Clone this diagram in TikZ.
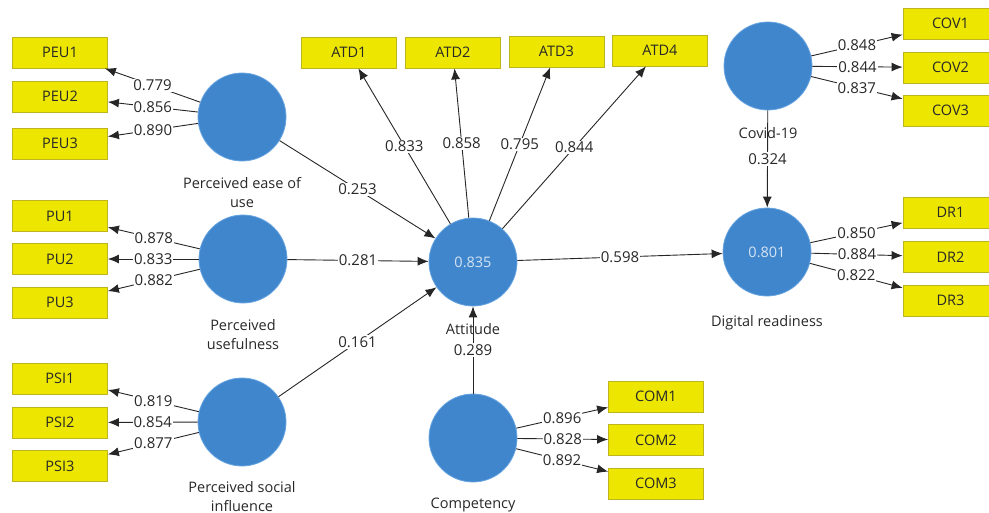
\documentclass[tikz,border=0pt]{standalone}
\usepackage{fontspec}
\setmainfont{Open Sans}
\usetikzlibrary{arrows.meta}
\definecolor{lvblue}{RGB}{64,134,204}
\definecolor{lvedge}{RGB}{105,165,225}
\definecolor{mvyellow}{RGB}{236,230,0}
\definecolor{mvedge}{RGB}{190,180,30}
\definecolor{txt}{RGB}{40,40,40}
\begin{document}
\begin{tikzpicture}[x=1pt,y=-1pt,
 lv/.style={circle,fill=lvblue,draw=lvedge,line width=0.8pt,minimum size=88pt,inner sep=0pt,text=lvblue!22!white,font=\fontsize{14.5}{16}\selectfont},
 mv/.style={rectangle,fill=mvyellow,draw=mvedge,line width=0.8pt,minimum width=95pt,minimum height=31pt,inner sep=0pt,text=txt,font=\fontsize{14.5}{16}\selectfont},
 lvname/.style={text=txt,align=center,font=\fontsize{14.5}{19}\selectfont},
 conn/.style={draw=black!85,line width=0.9pt,-{Latex[length=11pt,width=9pt]}},
 coef/.style={fill=white,inner sep=1pt,text=txt,font=\fontsize{15}{16}\selectfont}
]
\useasboundingbox (0,0) rectangle (989,512);
% indicator boxes
\node[mv] (peu1) at (60,52.5) {PEU1};
\node[mv] (peu2) at (60,96.5) {PEU2};
\node[mv] (peu3) at (60,143.5) {PEU3};
\node[mv] (pu1) at (60,216) {PU1};
\node[mv] (pu2) at (60,259) {PU2};
\node[mv] (pu3) at (60,302.5) {PU3};
\node[mv] (psi1) at (60,378.5) {PSI1};
\node[mv] (psi2) at (60,422.5) {PSI2};
\node[mv] (psi3) at (60,466) {PSI3};
\node[mv] (atd1) at (349,52.5) {ATD1};
\node[mv] (atd2) at (453,52.5) {ATD2};
\node[mv] (atd3) at (556.5,51.5) {ATD3};
\node[mv] (atd4) at (660,50.5) {ATD4};
\node[mv] (cov1) at (950.5,23.5) {COV1};
\node[mv] (cov2) at (950.5,67.5) {COV2};
\node[mv] (cov3) at (950.5,110.5) {COV3};
\node[mv] (dr1) at (950.5,212.5) {DR1};
\node[mv] (dr2) at (950.5,257) {DR2};
\node[mv] (dr3) at (950.5,300.5) {DR3};
\node[mv] (com1) at (656,396.5) {COM1};
\node[mv] (com2) at (656,440) {COM2};
\node[mv] (com3) at (656,483.5) {COM3};
% latent variables
\node[lv] (peu) at (242,117) {};
\node[lv] (pu) at (243,259) {};
\node[lv] (psi) at (242,422) {};
\node[lv] (att) at (473,262) {0.835};
\node[lv] (comp) at (473,438) {};
\node[lv] (cov) at (768,66) {};
\node[lv] (dr) at (767,252) {0.801};
% names
\node[lvname] (npeu) at (242,193) {Perceived ease of\\use};
\node[lvname] (npu) at (243,335) {Perceived\\usefulness};
\node[lvname] (npsi) at (242,497) {Perceived social\\influence};
\node[lvname] (natt) at (473,329) {Attitude};
\node[lvname] (ncomp) at (473,505) {Competency};
\node[lvname] (ncov) at (768,133) {Covid-19};
\node[lvname] (ndr) at (767,323) {Digital readiness};
% outer loadings
\draw[conn] (peu) -- node[coef] {0.779} (peu1);
\draw[conn] (peu) -- node[coef] {0.856} (peu2);
\draw[conn] (peu) -- node[coef] {0.890} (peu3);
\draw[conn] (pu) -- node[coef] {0.878} (pu1);
\draw[conn] (pu) -- node[coef] {0.833} (pu2);
\draw[conn] (pu) -- node[coef] {0.882} (pu3);
\draw[conn] (psi) -- node[coef] {0.819} (psi1);
\draw[conn] (psi) -- node[coef] {0.854} (psi2);
\draw[conn] (psi) -- node[coef] {0.877} (psi3);
\draw[conn] (att) -- node[coef] {0.833} (atd1);
\draw[conn] (att) -- node[coef] {0.858} (atd2);
\draw[conn] (att) -- node[coef] {0.795} (atd3);
\draw[conn] (att) -- node[coef] {0.844} (atd4);
\draw[conn] (cov) -- node[coef] {0.848} (cov1);
\draw[conn] (cov) -- node[coef] {0.844} (cov2);
\draw[conn] (cov) -- node[coef] {0.837} (cov3);
\draw[conn] (dr) -- node[coef] {0.850} (dr1);
\draw[conn] (dr) -- node[coef] {0.884} (dr2);
\draw[conn] (dr) -- node[coef] {0.822} (dr3);
\draw[conn] (comp) -- node[coef] {0.896} (com1);
\draw[conn] (comp) -- node[coef] {0.828} (com2);
\draw[conn] (comp) -- node[coef] {0.892} (com3);
% path coefficients
\draw[conn] (peu) -- node[coef] {0.253} (att);
\draw[conn] (pu) -- node[coef] {0.281} (att);
\draw[conn] (psi) -- node[coef] {0.161} (att);
\draw[conn] (comp) -- node[coef] {0.289} (att);
\draw[conn] (att) -- node[coef] {0.598} (dr);
\draw[conn] (cov) -- node[coef] {0.324} (dr);
\end{tikzpicture}
\end{document}
